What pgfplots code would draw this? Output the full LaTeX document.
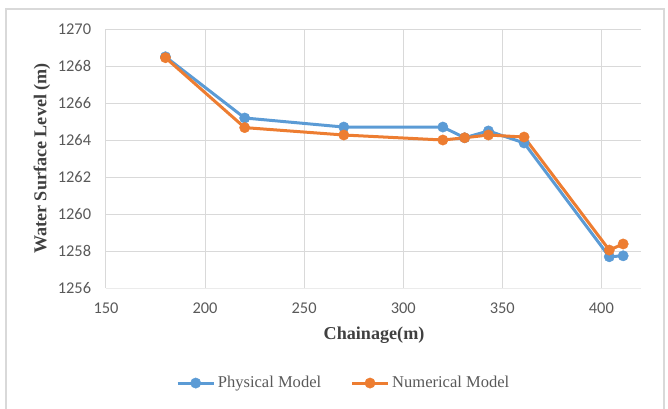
\documentclass[border=0pt]{standalone}
\usepackage{fontspec}
\setmainfont{Liberation Serif}
\newfontfamily\carlito{Carlito}
\usepackage{pgfplots}
\pgfplotsset{compat=1.18}
\definecolor{cblue}{HTML}{5B9BD5}
\definecolor{corange}{HTML}{ED7D31}
\definecolor{cgrid}{HTML}{D9D9D9}
\definecolor{ctick}{HTML}{595959}
\definecolor{clab}{HTML}{404040}
\begin{document}
\begin{tikzpicture}
\begin{axis}[
  at={(0,0)}, anchor=south west,
  scale only axis,
  width=401.25pt, height=194.25pt,
  xmin=150, xmax=420, ymin=1256, ymax=1270,
  xtick={150,200,...,400}, ytick={1256,1258,...,1270},
  grid=major, grid style={cgrid, line width=0.75pt},
  axis lines*=left,
  x axis line style={draw=cgrid!120!gray, line width=0.75pt, -},
  y axis line style={draw=none},
  major tick length=0pt,
  /pgf/number format/assume math mode=true,
  /pgf/number format/1000 sep={},
  tick label style={font=\carlito\fontsize{12.3}{14}\selectfont, text=ctick},
  yticklabel style={inner sep=0pt, xshift=-11pt},
  xticklabel style={inner sep=0pt, yshift=-11pt},
  xlabel={Chainage(m)},
  ylabel={Water Surface Level (m)},
  label style={font=\bfseries\fontsize{13.6}{15}\selectfont, text=clab},
  xlabel style={at={(axis description cs:0.501,-0.181)}, anchor=center},
  ylabel style={at={(axis description cs:-0.1196,0.5)}, anchor=center, rotate=0},
  legend style={draw=none, fill=none, at={(0.445,-0.367)}, anchor=center,
    legend columns=2, font=\fontsize{12.4}{14}\selectfont, text=ctick,
    /tikz/every even column/.append style={column sep=20pt},
    inner sep=0pt},
  legend image code/.code={
    \draw[#1, mark=none] (0pt,0pt) -- (27pt,0pt);
    \draw[#1, only marks] plot coordinates {(13.5pt,0pt)};
  },
  every axis plot/.append style={line width=2.25pt, line join=round, mark=*, mark size=3.9pt},
  clip=false,
]
\addplot[color=cblue, mark options={solid, fill=cblue, draw=cblue, line width=0.3pt}] coordinates {
  (180,1268.50) (220,1265.19) (270,1264.70) (320,1264.70) (331,1264.12)
  (343,1264.49) (361,1263.84) (404,1257.69) (411,1257.74)
};
\addlegendentry{Physical Model}
\addplot[color=corange, mark options={solid, fill=corange, draw=corange, line width=0.3pt}] coordinates {
  (180,1268.45) (220,1264.67) (270,1264.27) (320,1264.00) (331,1264.12)
  (343,1264.27) (361,1264.16) (404,1258.05) (411,1258.38)
};
\addlegendentry{Numerical Model}
\end{axis}
\pgfresetboundingbox
\path[use as bounding box] (-79.5pt,-90pt) rectangle (421.5pt,216pt);
\draw[cgrid, line width=0.9pt] (-75pt,-95pt) -- (-75pt,209.25pt) -- (418.5pt,209.25pt) -- (418.5pt,-95pt);
\end{tikzpicture}
\end{document}
